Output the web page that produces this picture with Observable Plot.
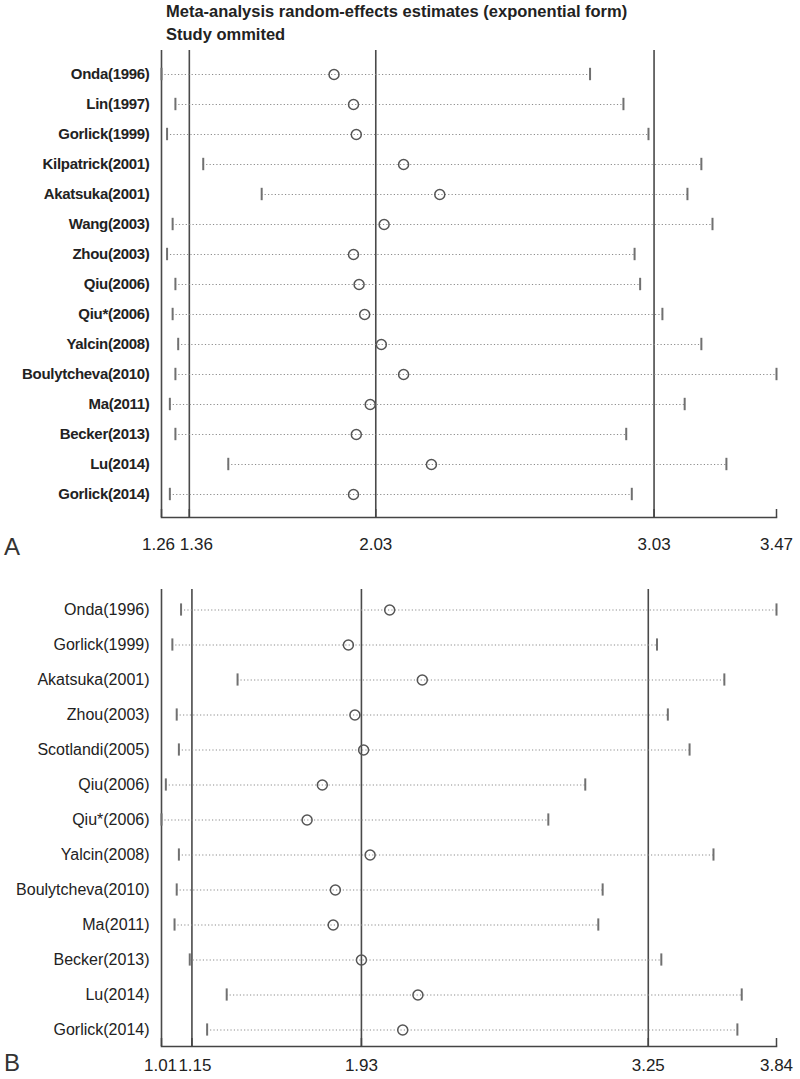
<!DOCTYPE html>
<html><head><meta charset="utf-8">
<script src="https://cdn.jsdelivr.net/npm/d3@7"></script>
<script src="https://cdn.jsdelivr.net/npm/@observablehq/plot@0.6"></script>
<style>
body{margin:0;background:#fff;font-family:"Liberation Sans",Arial,sans-serif;}
#wrap{position:relative;width:800px;height:1079px;overflow:hidden;background:#fff;}
.t{position:absolute;z-index:5;left:166px;font-weight:bold;font-size:16.5px;color:#222;line-height:18px;white-space:nowrap;}
.p{position:absolute;z-index:5;left:4px;font-size:24px;color:#333;line-height:26px;}
#a{position:absolute;left:0;top:0}
#b{position:absolute;left:0;top:560px}
#a g[aria-label="y-axis tick label"] text{letter-spacing:-0.3px}
</style></head><body>
<div id="wrap">
<div id="a"></div><div id="b"></div>
<div class="t" style="top:2px">Meta-analysis random-effects estimates (exponential form)</div>
<div class="t" style="top:25px">Study ommited</div>
<div class="p" style="top:534px">A</div>
<div class="p" style="top:1050px">B</div>
</div>
<script>
// Panel A
const studiesA = ["Onda(1996)","Lin(1997)","Gorlick(1999)","Kilpatrick(2001)","Akatsuka(2001)","Wang(2003)","Zhou(2003)","Qiu(2006)","Qiu*(2006)","Yalcin(2008)","Boulytcheva(2010)","Ma(2011)","Becker(2013)","Lu(2014)","Gorlick(2014)"];
const lowerA = [1.26,1.31,1.28,1.41,1.62,1.30,1.28,1.31,1.30,1.32,1.31,1.29,1.31,1.50,1.29];
const estA   = [1.88,1.95,1.96,2.13,2.26,2.06,1.95,1.97,1.99,2.05,2.13,2.01,1.96,2.23,1.95];
const upperA = [2.80,2.92,3.01,3.20,3.15,3.24,2.96,2.98,3.06,3.20,3.47,3.14,2.93,3.29,2.95];
const ticksA = [1.26,1.36,2.03,3.03,3.47];
const refsA  = [1.26,1.36,2.03,3.03];

// Panel B
const studiesB = ["Onda(1996)","Gorlick(1999)","Akatsuka(2001)","Zhou(2003)","Scotlandi(2005)","Qiu(2006)","Qiu*(2006)","Yalcin(2008)","Boulytcheva(2010)","Ma(2011)","Becker(2013)","Lu(2014)","Gorlick(2014)"];
const lowerB = [1.10,1.06,1.36,1.08,1.09,1.03,1.01,1.09,1.08,1.07,1.14,1.31,1.22];
const estB   = [2.06,1.87,2.21,1.90,1.94,1.75,1.68,1.97,1.81,1.80,1.93,2.19,2.12];
const upperB = [3.84,3.29,3.60,3.34,3.44,2.96,2.79,3.55,3.04,3.02,3.31,3.68,3.66];
const ticksB = [1.01,1.15,1.93,3.25,3.84];
const refsB  = [1.01,1.15,1.93,3.25];

const regular = "'Liberation Sans', Arial, sans-serif";

function panel({studies, lower, est, upper, ticks, refs, height, marginTop, marginBottom, insetTop, insetBottom, capInset, bold, labelSize, firstDx, secondDx, tickPad}) {
  const data = studies.map((s, i) => ({study: s, lower: lower[i], est: est[i], upper: upper[i]}));
  const fmt = d3.format(".2f");
  const tickText = {tickSize: 0, tickPadding: tickPad, tickFormat: fmt, fontSize: 17, fill: "#222"};
  return Plot.plot({
    width: 800, height, marginLeft: 161, marginRight: 24, marginTop, marginBottom,
    style: {fontFamily: regular, background: "#fff"},
    x: {domain: [ticks[0], ticks[ticks.length - 1]], label: null},
    y: {type: "band", domain: studies, padding: 0, insetTop, insetBottom, label: null},
    marks: [
      Plot.ruleX(refs, {stroke: "#4a4a4a", strokeWidth: 1.6}),
      Plot.ruleY(data, {y: "study", x1: "lower", x2: "upper", stroke: "#8c8c8c", strokeWidth: 1.2, strokeDasharray: "1.2,2.2"}),
      Plot.tickX(data, {x: "lower", y: "study", stroke: "#707070", strokeWidth: 2, insetTop: capInset, insetBottom: capInset}),
      Plot.tickX(data, {x: "upper", y: "study", stroke: "#707070", strokeWidth: 2, insetTop: capInset, insetBottom: capInset}),
      Plot.dot(data, {x: "est", y: "study", r: 5, stroke: "#555", strokeWidth: 1.5, fill: "none"}),
      Plot.frame({anchor: "bottom", stroke: "#444", strokeWidth: 1.6}),
      Plot.axisX(ticks, {tickSize: -8, tickFormat: () => "", stroke: "#444", strokeWidth: 1.5}),
      Plot.axisX(ticks.slice(0, 1), {...tickText, dx: firstDx}),
      Plot.axisX(ticks.slice(1, 2), {...tickText, dx: secondDx}),
      Plot.axisX(ticks.slice(2), tickText),
      Plot.axisY({tickSize: 0, tickPadding: 12, fontSize: labelSize, fontWeight: bold ? "bold" : "normal", fill: "#222"})
    ]
  });
}

document.getElementById("a").append(panel({
  studies: studiesA, lower: lowerA, est: estA, upper: upperA, ticks: ticksA, refs: refsA,
  height: 560, marginTop: 50, marginBottom: 43, insetTop: 4, insetBottom: 4, capInset: 8.8,
  bold: true, labelSize: 15, firstDx: -3, secondDx: 7, tickPad: 20
}));
document.getElementById("b").append(panel({
  studies: studiesB, lower: lowerB, est: estB, upper: upperB, ticks: ticksB, refs: refsB,
  height: 519, marginTop: 29, marginBottom: 33, insetTop: -3, insetBottom: -6, capInset: 11.4,
  bold: false, labelSize: 16, firstDx: -1, secondDx: 3, tickPad: 12
}));
</script>
</body></html>
